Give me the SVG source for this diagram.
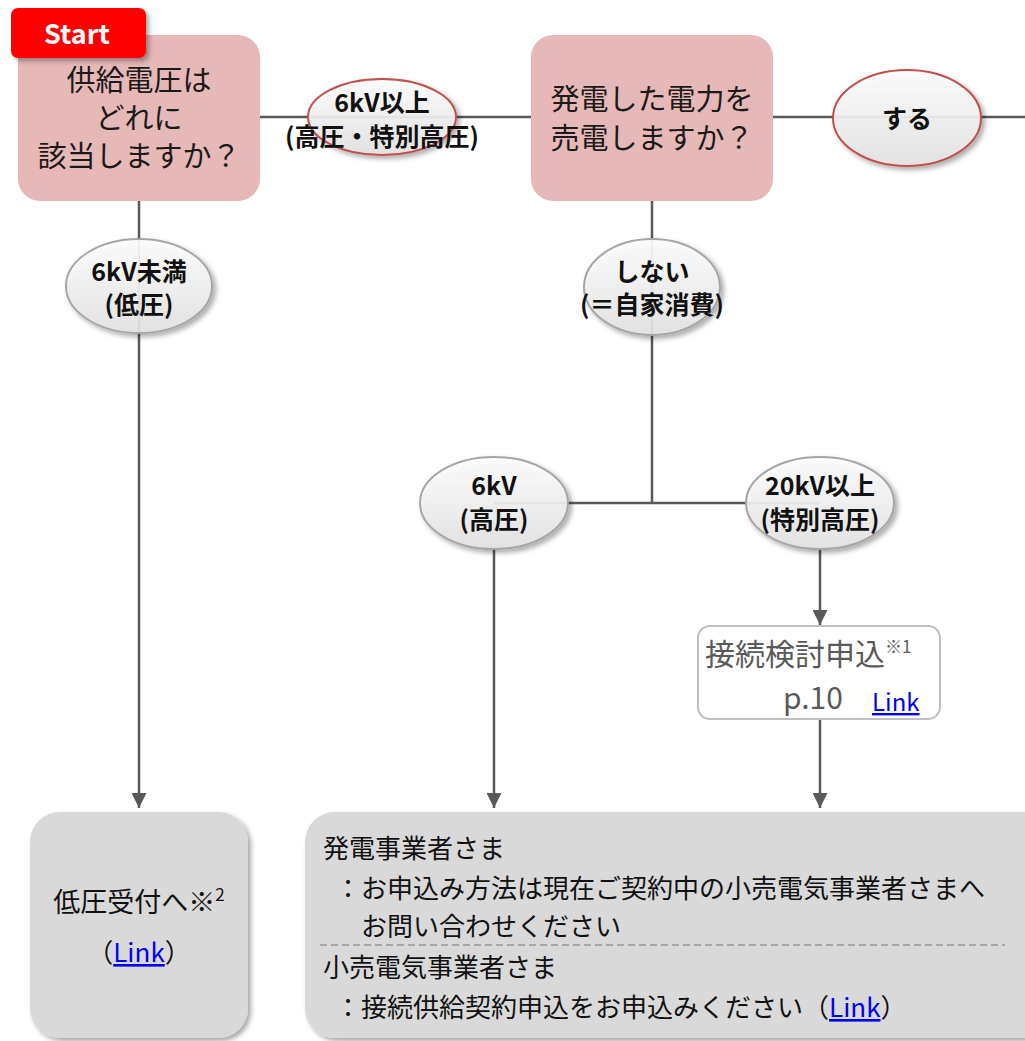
<svg xmlns="http://www.w3.org/2000/svg" width="1025" height="1041" viewBox="0 0 1025 1041">
<style>
.t{font-family:"Noto Sans CJK JP","Noto Sans",sans-serif;}
.q{font-size:29px;fill:#1a1a1a;text-anchor:middle;}
.lb{font-size:25px;font-weight:bold;fill:#111;text-anchor:middle;}
.bt{font-size:26px;fill:#111;}
.ln{stroke:#595959;stroke-width:2.5;fill:none;}
.lk{fill:#0000ee;text-decoration:underline;}
.ellR{fill:url(#eg);stroke:#c0504d;stroke-width:2;}
.ellG{fill:url(#eg);stroke:#a6a6a6;stroke-width:2;}
.pink{fill:#e6b8b7;}
.gray{fill:#d9d9d9;}
</style>
<defs>
<linearGradient id="eg" x1="0" y1="0" x2="0" y2="1">
<stop offset="0" stop-color="#ffffff" stop-opacity="0.9"/>
<stop offset="1" stop-color="#e4e4e4" stop-opacity="0.9"/>
</linearGradient>
<filter id="sh" x="-20%" y="-20%" width="140%" height="140%">
<feDropShadow dx="3" dy="3" stdDeviation="2.5" flood-color="#000" flood-opacity="0.35"/>
</filter>
<marker id="ar" viewBox="0 0 10 10" refX="10" refY="5" markerWidth="6" markerHeight="6" orient="auto" markerUnits="strokeWidth">
<path d="M0,0 L10,5 L0,10 z" fill="#595959"/>
</marker>
</defs>

<g id="connectors">
<line class="ln" x1="260" y1="117" x2="531" y2="117"/>
<line class="ln" x1="773" y1="117" x2="1025" y2="117"/>
<line class="ln" x1="139" y1="201" x2="139" y2="808" marker-end="url(#ar)"/>
<line class="ln" x1="652" y1="201" x2="652" y2="503"/>
<line class="ln" x1="494" y1="503" x2="820" y2="503"/>
<line class="ln" x1="494" y1="549" x2="494" y2="808" marker-end="url(#ar)"/>
<line class="ln" x1="820" y1="549" x2="820" y2="625" marker-end="url(#ar)"/>
<line class="ln" x1="820" y1="719" x2="820" y2="808" marker-end="url(#ar)"/>
</g>

<g id="q1">
<rect class="pink" x="18" y="35" width="242" height="166" rx="22"/>
<text class="t q" x="139" y="91">供給電圧は</text>
<text class="t q" x="139" y="129">どれに</text>
<text class="t q" x="139" y="167">該当しますか？</text>
</g>

<g id="start">
<rect x="11" y="8" width="135" height="50" rx="7" fill="#ff0000" filter="url(#sh)"/>
<text class="t" x="77" y="44" font-size="27" font-weight="bold" fill="#fff" text-anchor="middle">Start</text>
</g>

<g id="q2">
<rect class="pink" x="531" y="35" width="242" height="166" rx="22"/>
<text class="t q" x="652" y="110">発電した電力を</text>
<text class="t q" x="652" y="149">売電しますか？</text>
</g>

<g id="l-high">
<ellipse class="ellR" cx="382" cy="117" rx="74" ry="38" filter="url(#sh)"/>
<text class="t lb" x="382" y="112">6kV以上</text>
<text class="t lb" x="382" y="146">(高圧・特別高圧)</text>
</g>

<g id="l-yes">
<ellipse class="ellR" cx="907" cy="118" rx="74" ry="48" filter="url(#sh)"/>
<text class="t lb" x="907" y="128">する</text>
</g>

<g id="l-low">
<ellipse class="ellG" cx="139" cy="286" rx="73" ry="47" filter="url(#sh)"/>
<text class="t lb" x="139" y="281">6kV未満</text>
<text class="t lb" x="139" y="314">(低圧)</text>
</g>

<g id="l-no">
<ellipse class="ellG" cx="652" cy="287" rx="68" ry="48" filter="url(#sh)"/>
<text class="t lb" x="652" y="281">しない</text>
<text class="t lb" x="652" y="314">(＝自家消費)</text>
</g>

<g id="l-6kv">
<ellipse class="ellG" cx="494" cy="503" rx="74" ry="46" filter="url(#sh)"/>
<text class="t lb" x="494" y="495">6kV</text>
<text class="t lb" x="494" y="529">(高圧)</text>
</g>

<g id="l-20kv">
<ellipse class="ellG" cx="820" cy="503" rx="74" ry="46" filter="url(#sh)"/>
<text class="t lb" x="820" y="495">20kV以上</text>
<text class="t lb" x="820" y="529">(特別高圧)</text>
</g>

<g id="study">
<rect x="698" y="626" width="242" height="93" rx="12" fill="#fff" stroke="#bfbfbf" stroke-width="2"/>
<text class="t" x="705" y="665" font-size="30" fill="#595959">接続検討申込<tspan font-size="17" dy="-12">※1</tspan></text>
<text class="t" x="783" y="709" font-size="30" fill="#595959">p.10</text>
<text class="t lk" x="872" y="711" font-size="24">Link</text>
</g>

<g id="lowv">
<rect class="gray" x="30" y="812" width="218" height="226" rx="30" filter="url(#sh)"/>
<text class="t" x="139" y="912" font-size="27" fill="#111" text-anchor="middle">低圧受付へ※<tspan font-size="17" dy="-11">2</tspan></text>
<text class="t" x="139" y="962" font-size="26" fill="#111" text-anchor="middle">（<tspan class="lk">Link</tspan>）</text>
</g>

<g id="result">
<rect class="gray" x="305" y="812" width="760" height="226" rx="30" filter="url(#sh)"/>
<text class="t bt" x="323" y="858">発電事業者さま</text>
<text class="t bt" x="335" y="898">：お申込み方法は現在ご契約中の小売電気事業者さまへ</text>
<text class="t bt" x="361" y="936">お問い合わせください</text>
<line x1="320" y1="945" x2="1005" y2="945" stroke="#a6a6a6" stroke-width="2" stroke-dasharray="7,4"/>
<text class="t bt" x="323" y="977">小売電気事業者さま</text>
<text class="t bt" x="335" y="1017">：接続供給契約申込をお申込みください（<tspan class="lk">Link</tspan>）</text>
</g>
</svg>
